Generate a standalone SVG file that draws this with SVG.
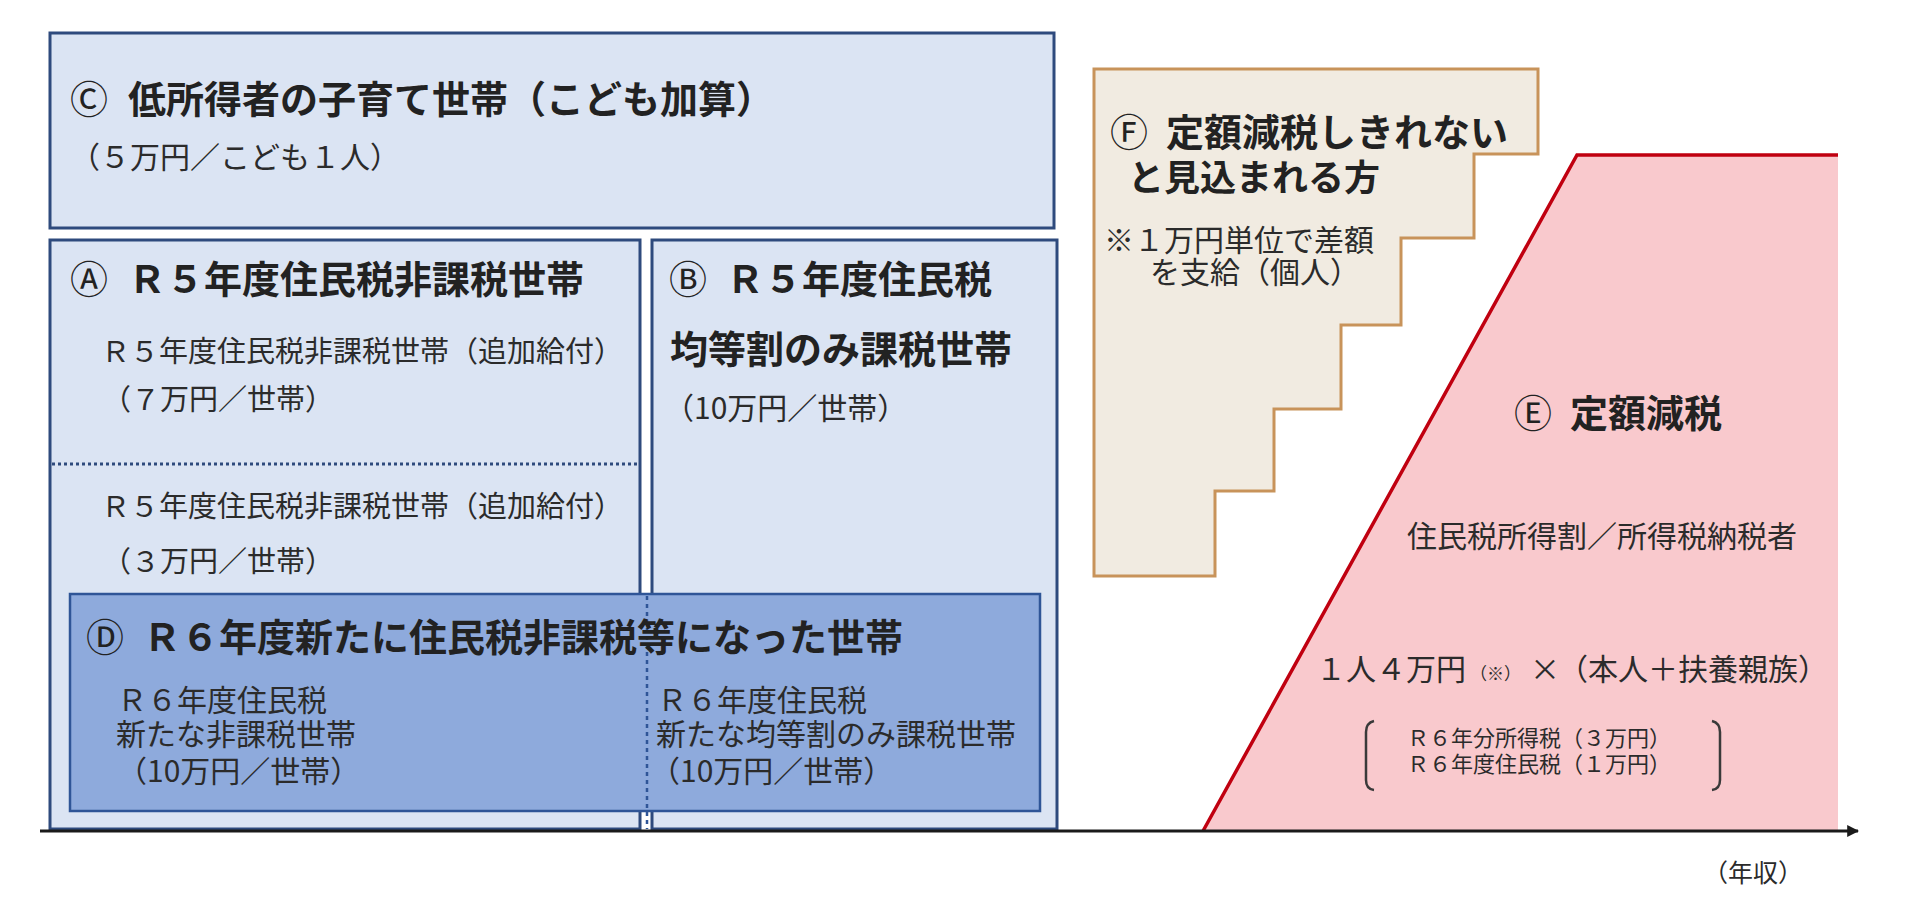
<svg xmlns="http://www.w3.org/2000/svg" width="1911" height="900" viewBox="0 0 1911 900">
<defs>
<style>
text{font-family:"Noto Sans CJK JP","Noto Sans",sans-serif;fill:#2b2b2b}
.t{font-size:38px;font-weight:bold;fill:#222}
.c{font-weight:normal}
.s{font-size:29px}
.d{font-size:30px}
.box{fill:#dbe4f3;stroke:#2e4a7d;stroke-width:3}
</style>
<marker id="arr" viewBox="0 0 10 10" refX="9" refY="5" markerWidth="4" markerHeight="4" orient="auto">
<path d="M0,0 L10,5 L0,10 z" fill="#1a1a1a"/>
</marker>
</defs>
<rect width="1911" height="900" fill="#ffffff"/>

<g id="nodeC">
<rect class="box" x="50" y="33" width="1004" height="195" stroke-width="4"/>
<text class="t" y="113"><tspan class="c" x="70">Ⓒ</tspan><tspan x="128">低所得者の子育て世帯（こども加算）</tspan></text>
<text x="70" y="168" style="font-size:30px">（５万円／こども１人）</text>
</g>

<g id="nodeA">
<rect class="box" x="50" y="240" width="590" height="589"/>
<line x1="52" y1="464" x2="638" y2="464" stroke="#2e4a7d" stroke-width="3" stroke-dasharray="3 3"/>
<text class="t" y="293"><tspan class="c" x="70">Ⓐ</tspan><tspan x="128">Ｒ５年度住民税非課税世帯</tspan></text>
<text class="s" x="101" y="362">Ｒ５年度住民税非課税世帯（追加給付）</text>
<text class="s" x="102" y="410">（７万円／世帯）</text>
<text class="s" x="101" y="517">Ｒ５年度住民税非課税世帯（追加給付）</text>
<text class="s" x="102" y="572">（３万円／世帯）</text>
</g>

<g id="nodeB">
<rect class="box" x="652" y="240" width="405" height="589"/>
<text class="t" y="293"><tspan class="c" x="669">Ⓑ</tspan><tspan x="726">Ｒ５年度住民税</tspan></text>
<text class="t" x="670" y="363">均等割のみ課税世帯</text>
<text x="664" y="419" style="font-size:30px">（10万円／世帯）</text>
</g>

<g id="nodeD">
<rect x="70" y="594" width="970" height="217" fill="#8eaadc" stroke="#2f5597" stroke-width="2.5"/>
<line x1="647" y1="596" x2="647" y2="829" stroke="#2f5597" stroke-width="2.5" stroke-dasharray="4 4"/>
<text class="t" y="651"><tspan class="c" x="86">Ⓓ</tspan><tspan x="143">Ｒ６年度新たに住民税非課税等になった世帯</tspan></text>
<text class="d" x="117" y="711">Ｒ６年度住民税</text>
<text class="d" x="116" y="745">新たな非課税世帯</text>
<text class="d" x="117" y="782">（10万円／世帯）</text>
<text class="d" x="657" y="711">Ｒ６年度住民税</text>
<text class="d" x="656" y="745">新たな均等割のみ課税世帯</text>
<text class="d" x="650" y="782">（10万円／世帯）</text>
</g>

<g id="nodeF">
<polygon points="1094,69 1538,69 1538,154 1474,154 1474,238 1401,238 1401,325 1341,325 1341,409 1274,409 1274,491 1215,491 1215,576 1094,576" fill="#f1ebe1" stroke="#c8935a" stroke-width="3"/>
<text class="t" y="146"><tspan class="c" x="1110">Ⓕ</tspan><tspan x="1166">定額減税しきれない</tspan></text>
<text class="t" x="1128" y="191" style="font-size:36px">と見込まれる方</text>
<text x="1104" y="251" style="font-size:30px">※１万円単位で差額</text>
<text x="1150" y="283" style="font-size:30px">を支給（個人）</text>
</g>

<g id="nodeE">
<polygon points="1203,831 1577,155 1838,155 1838,831" fill="#f9c9cd"/>
<polyline points="1203,831 1577,155 1838,155" fill="none" stroke="#c00010" stroke-width="3.5"/>
<text class="t" y="427"><tspan class="c" x="1514">Ⓔ</tspan><tspan x="1570">定額減税</tspan></text>
<text class="d" x="1407" y="547">住民税所得割／所得税納税者</text>
<text class="d" y="680"><tspan x="1316">１人４万円</tspan><tspan x="1470" style="font-size:17px">（※）</tspan><tspan x="1530">×</tspan><tspan x="1558">（本人＋扶養親族）</tspan></text>
<path d="M1374,721 Q1366,723 1366,732 L1366,780 Q1366,789 1374,790" fill="none" stroke="#3a3a3a" stroke-width="2.5"/>
<path d="M1712,721 Q1720,723 1720,732 L1720,780 Q1720,789 1712,790" fill="none" stroke="#3a3a3a" stroke-width="2.5"/>
<text x="1407" y="746" style="font-size:22px">Ｒ６年分所得税（３万円）</text>
<text x="1407" y="772" style="font-size:22px">Ｒ６年度住民税（１万円）</text>
</g>

<g id="connectors">
<line x1="40" y1="831" x2="1858" y2="831" stroke="#1a1a1a" stroke-width="3" marker-end="url(#arr)"/>
</g>
<text x="1703" y="882" style="font-size:25px">（年収）</text>
</svg>
